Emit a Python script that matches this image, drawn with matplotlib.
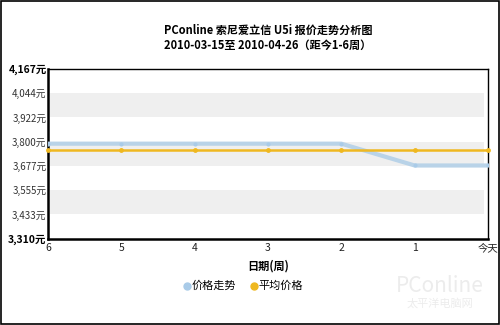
import matplotlib.pyplot as plt
from matplotlib.patches import Rectangle

plt.rcParams['font.family'] = ['Noto Sans CJK SC', 'DejaVu Sans']

# data
weeks = ['6', '5', '4', '3', '2', '1', '今天']
price = [3790, 3790, 3790, 3790, 3790, 3680, 3680]
avg_price = [3758, 3758, 3758, 3758, 3758, 3758, 3758]
y_ticks = [3310, 3433, 3555, 3677, 3800, 3922, 4044, 4167]

fig = plt.figure(figsize=(5, 3.25), dpi=100)
ax = fig.add_axes([0.096, 0.265, 0.88, 0.523])

x = list(range(len(weeks)))
ax.set_xlim(0, len(weeks) - 1)
ax.set_ylim(y_ticks[0], y_ticks[-1])

# alternating grey bands
for i in range(1, len(y_ticks) - 1, 2):
    ax.axhspan(y_ticks[i], y_ticks[i + 1], xmin=0.005, xmax=0.99,
               color='#efefef', lw=0, zorder=0)

ax.plot(x, price, color='#b9d3e8', lw=3, marker='o', ms=3,
        mfc='#a9cbe8', mec='none', zorder=3, solid_capstyle='butt')
ax.plot(x, avg_price, color='#efb820', lw=1.8, marker='o', ms=3.5,
        mfc='#efb820', mec='none', zorder=4, clip_on=False)

ax.set_yticks(y_ticks)
labels = [f'{v:,}元' for v in y_ticks]
ax.set_yticklabels(labels, fontsize=7, color='#333333')
for i, t in enumerate(ax.get_yticklabels()):
    if i in (0, len(y_ticks) - 1):
        t.set_fontweight('bold')
        t.set_color('black')
        t.set_fontsize(7.5)
ax.set_xticks(x)
ax.set_xticklabels(weeks, fontsize=7.5, color='#222222')
ax.tick_params(length=0, pad=3)
ax.tick_params(axis='y', pad=1)

for s in ('left', 'bottom'):
    ax.spines[s].set_linewidth(1.8)
ax.spines['top'].set_linewidth(1.0)
ax.spines['right'].set_linewidth(1.0)

ax.set_xlabel('日期(周)', fontsize=8, fontweight='bold', labelpad=5)

fig.text(0.536, 0.895, 'PConline 索尼爱立信 U5i 报价走势分析图', ha='center',
         fontsize=8, fontweight='bold')
fig.text(0.536, 0.85, '2010-03-15至 2010-04-26（距今1-6周）', ha='center',
         fontsize=8, fontweight='bold')

# legend
fig.add_artist(plt.Line2D([0.373], [0.12], marker='o', ms=5, color='#a9cbe8',
                          transform=fig.transFigure))
fig.text(0.383, 0.12, '价格走势', va='center', fontsize=8)
fig.add_artist(plt.Line2D([0.507], [0.12], marker='o', ms=5, color='#efb820',
                          transform=fig.transFigure))
fig.text(0.517, 0.12, '平均价格', va='center', fontsize=8)

# faint watermark
fig.text(0.88, 0.12, 'PConline', ha='center', va='center', fontsize=15,
         color='#ececec', style='italic')
fig.text(0.88, 0.065, '太平洋电脑网', ha='center', va='center', fontsize=8,
         color='#ececec')

fig.add_artist(Rectangle((0.001, 0.002), 0.997, 0.995, transform=fig.transFigure,
                         fill=False, ec='black', lw=1.2))

fig.savefig('out.png', dpi=100)
